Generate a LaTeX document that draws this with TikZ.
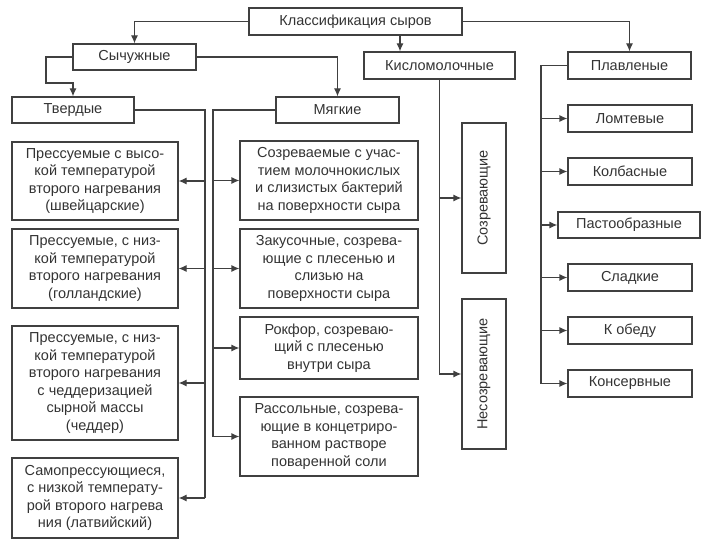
\documentclass[tikz,border=0pt]{standalone}
\usepackage{fontspec}
\setmainfont{Liberation Sans}
\usepackage{xcolor}
\usetikzlibrary{positioning, shapes, arrows.meta, calc}

\begin{document}
\begin{tikzpicture}[x=1pt, y=-1pt,
  box/.style={draw=black!75, line width=1.2pt, rectangle, align=center, inner sep=0pt,
    text=black!80, font=\fontsize{14.5}{17.5}\selectfont},
  conn/.style={draw=black!75, line width=1.2pt},
  arr/.style={conn, -{Latex[length=8pt, width=7pt]}}]

\useasboundingbox (0,0) rectangle (702,548);

% Top level
\node[box, minimum width=213, minimum height=27] (top) at (355.5,21.5) {Классификация сыров};
\node[box, minimum width=123, minimum height=26] (sych) at (134.5,57) {Сычужные};
\node[box, minimum width=151, minimum height=27] (kislo) at (439.5,65.5) {Кисломолочные};
\node[box, minimum width=123, minimum height=27] (plav) at (629.5,65.5) {Плавленые};

% Second level of rennet cheeses
\node[box, minimum width=122, minimum height=26] (tverd) at (73,110) {Твердые};
\node[box, minimum width=123, minimum height=26] (myag) at (337.5,110) {Мягкие};

% Hard cheeses
\node[box, minimum width=166, minimum height=78] (hard1) at (95,181) {Прессуемые с  высо-\\кой температурой\\второго нагревания\\(швейцарские)};
\node[box, minimum width=166, minimum height=79] (hard2) at (95,268.5) {Прессуемые, с  низ-\\кой температурой\\второго нагревания\\(голландские)};
\node[box, minimum width=166, minimum height=114] (hard3) at (95,383) {Прессуемые, с  низ-\\кой температурой\\второго нагревания\\с чеддеризацией\\сырной массы\\(чеддер)};
\node[box, minimum width=166, minimum height=80] (hard4) at (95,498) {Самопрессующиеся,\\с низкой температу-\\рой второго нагрева\\ния (латвийский)};

% Soft cheeses
\node[box, minimum width=178, minimum height=79] (soft1) at (329,180.5) {Созреваемые с учас-\\тием молочнокислых\\и слизистых бактерий\\на поверхности сыра};
\node[box, minimum width=178, minimum height=79] (soft2) at (329,268.5) {Закусочные, созрева-\\ющие с плесенью и\\слизью на\\поверхности сыра};
\node[box, minimum width=178, minimum height=62] (soft3) at (329,348) {Рокфор, созреваю-\\щий с плесенью\\внутри сыра};
\node[box, minimum width=178, minimum height=79] (soft4) at (329,436.5) {Рассольные, созрева-\\ющие в концетриро-\\ванном растворе\\поваренной соли};

% Sour-milk cheeses
\node[box, rotate=90, minimum width=150, minimum height=44] (soz) at (484,198) {Созревающие};
\node[box, rotate=90, minimum width=150, minimum height=44] (nesoz) at (484,374) {Несозревающие};

% Processed cheeses
\node[box, minimum width=124, minimum height=27] (lomt) at (630,118.5) {Ломтевые};
\node[box, minimum width=124, minimum height=27] (kolb) at (630,171.5) {Колбасные};
\node[box, minimum width=142, minimum height=26] (past) at (629,225) {Пастообразные};
\node[box, minimum width=124, minimum height=27] (slad) at (630,277.5) {Сладкие};
\node[box, minimum width=124, minimum height=27] (obed) at (630,330.5) {К обеду};
\node[box, minimum width=124, minimum height=27] (kons) at (630,383.5) {Консервные};

% Bus coordinates
\coordinate (kx) at (400,0);
\coordinate (sj) at (46,83);
\coordinate (tv) at (205,0);
\coordinate (mg) at (213,0);
\coordinate (pv) at (541,0);

% Arrows from the top
\draw[arr] (top.west) -| (sych.north);
\draw[arr] (top.south -| kx) -- (kislo.north -| kx);
\draw[arr] (top.east) -| (plav.north);
\draw[arr] (sych.west) -| (sj) -| (tverd.north);
\draw[arr] (sych.east) -| (myag.north);

% Hard branch
\draw[conn] (tverd.east) -| (tv |- hard4.east);
\foreach \n in {hard1, hard2, hard3, hard4}
  \draw[arr] (tv |- \n.east) -- (\n.east);

% Soft branch
\draw[conn] (myag.west) -| (mg |- soft4.west);
\foreach \n in {soft1, soft2, soft3, soft4}
  \draw[arr] (mg |- \n.west) -- (\n.west);

% Sour-milk branch
\draw[arr] (kislo.south) |- (nesoz.north);
\draw[arr] (kislo.south |- soz.north) -- (soz.north);

% Processed branch
\draw[conn] (plav.west) -| (pv |- kons.west);
\foreach \n in {lomt, kolb, past, slad, obed, kons}
  \draw[arr] (pv |- \n.west) -- (\n.west);

\end{tikzpicture}
\end{document}
